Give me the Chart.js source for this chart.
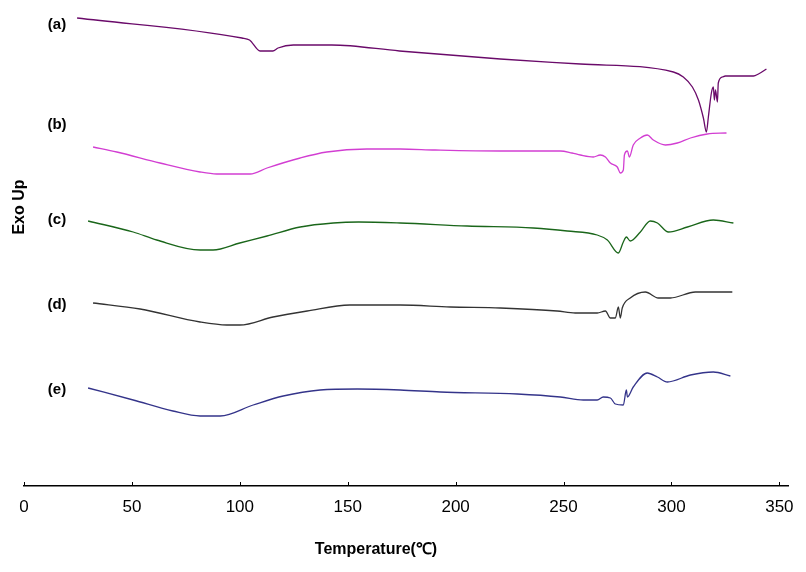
<!DOCTYPE html>
<html>
<head>
<meta charset="utf-8">
<script src="https://cdn.jsdelivr.net/npm/chart.js@4/dist/chart.umd.min.js"></script>
<style>
  body { margin: 0; background: #fff; }
</style>
</head>
<body>
<canvas id="dsc" width="806" height="572"></canvas>
<script>
// temperature ticks on the x axis
const tempTicks = [0, 50, 100, 150, 200, 250, 300, 350];

// curve names and their label heights (heat flow, arbitrary offset units)
const curveNames = ['(a)', '(b)', '(c)', '(d)', '(e)'];
const labelLevels = [46.1, 36.1, 26.6, 18.1, 9.6];
const labelTemp = 15.3;

// (a)
const aTemp = [24.6, 101, 104.5, 109.4, 115.3, 117.7, 124.8, 142.6, 174, 220.7, 257.8, 300.9, 305.5, 309.7, 312.5, 314.8, 316.2, 317.1, 318.5, 319.4, 319.9, 320.4, 321.3, 321.7, 323.6, 325, 338, 340.3, 344];
const aHeat = [46.8, 44.8, 44.6, 43.5, 43.5, 43.8, 44.1, 44.1, 43.5, 42.7, 42.2, 41.4, 40.9, 39.9, 38.6, 36.8, 35.4, 36.9, 39.3, 39.9, 38.6, 39.6, 38.4, 40.3, 40.9, 41.0, 41.0, 41.2, 41.7];
// (b)
const bTemp = [32, 43, 63, 81.6, 89.3, 104.8, 112.6, 128, 140.3, 158.8, 174.3, 190.5, 220.7, 248.5, 253.9, 257.8, 263.8, 267, 269.4, 271.7, 274.9, 276.3, 277.7, 278.2, 279.6, 280.5, 282.3, 285.6, 288.8, 291.6, 297.2, 302.7, 308.8, 316.6, 325.5];
const bHeat = [33.9, 33.4, 32.3, 31.4, 31.2, 31.2, 31.8, 32.8, 33.4, 33.7, 33.7, 33.6, 33.5, 33.5, 33.3, 33.1, 32.9, 33.1, 32.9, 32.3, 31.9, 31.3, 31.6, 33.1, 33.5, 32.9, 34.1, 34.8, 35.1, 34.6, 34.1, 34.3, 34.8, 35.2, 35.3];
// (c)
const cTemp = [29.7, 50.6, 61.5, 81.6, 87.6, 100, 112.6, 128, 143.3, 155, 174.3, 205.3, 236, 251.7, 265.6, 270.3, 275.4, 277.7, 279.1, 280.9, 285.6, 290.2, 293.5, 298.6, 307.4, 319.4, 328.7];
const cHeat = [26.5, 25.4, 24.6, 23.6, 23.6, 24.3, 25.0, 25.9, 26.3, 26.4, 26.3, 26.0, 25.8, 25.5, 25.1, 24.6, 23.3, 24.4, 24.9, 24.5, 25.4, 26.5, 26.3, 25.4, 25.9, 26.6, 26.3];
// (d)
const dTemp = [32, 53.8, 81.6, 94, 100, 115.4, 131.2, 151, 174.3, 197.5, 220.7, 247, 255.4, 265.6, 269.4, 271.7, 274, 275.4, 276.3, 277.2, 280.9, 287.9, 293.9, 299.5, 311.1, 322.7, 328.2];
const dHeat = [18.3, 17.7, 16.4, 16.1, 16.1, 16.9, 17.5, 18.1, 18.1, 17.9, 17.8, 17.5, 17.3, 17.3, 17.5, 16.8, 16.8, 17.9, 16.8, 17.8, 18.8, 19.4, 18.8, 18.8, 19.4, 19.4, 19.4];
// (e)
const eTemp = [29.7, 50.6, 69, 81.6, 90.9, 106.2, 120.1, 137.2, 154.4, 174.3, 192.9, 228.6, 248.5, 259.2, 265.6, 268.4, 271.7, 274, 277.7, 279.1, 279.6, 282.3, 288.8, 293.5, 298.1, 308.8, 319.4, 327.3];
const eHeat = [9.8, 8.6, 7.5, 7.0, 7.0, 8.1, 9.0, 9.6, 9.7, 9.6, 9.4, 9.2, 8.9, 8.6, 8.6, 8.9, 8.8, 8.2, 8.1, 9.6, 8.9, 9.9, 11.3, 10.9, 10.4, 11.1, 11.4, 11.0];

const curveColors = ['#6a0a6a', '#d23ed2', '#1a661a', '#333333', '#34348a'];

function toPoints(xs, ys) {
	return xs.map((x, i) => ({ x: x, y: ys[i] }));
}

const series = [[aTemp, aHeat], [bTemp, bHeat], [cTemp, cHeat], [dTemp, dHeat], [eTemp, eHeat]];

const extras = {
	id: 'extras',
	afterDraw(chart) {
		const ctx = chart.ctx;
		const xs = chart.scales.x, ys = chart.scales.y;
		const area = chart.chartArea;
		ctx.save();
		// small inward tick marks
		ctx.strokeStyle = '#000';
		ctx.lineWidth = 1;
		tempTicks.forEach(t => {
			const px = Math.round(xs.getPixelForValue(t)) + 0.5;
			ctx.beginPath();
			ctx.moveTo(px, area.bottom);
			ctx.lineTo(px, area.bottom - 4);
			ctx.stroke();
		});
		// curve labels
		ctx.fillStyle = '#000';
		ctx.font = 'bold 15px "Liberation Sans", Arial, sans-serif';
		ctx.textAlign = 'center';
		ctx.textBaseline = 'middle';
		curveNames.forEach((n, i) => {
			ctx.fillText(n, xs.getPixelForValue(labelTemp), ys.getPixelForValue(labelLevels[i]));
		});
		// x title
		ctx.font = 'bold 16px "Liberation Sans", Arial, sans-serif';
		ctx.fillText('Temperature(℃)', (area.left + area.right) / 2 - 30, 550);
		// y title
		ctx.translate(20, 207);
		ctx.rotate(-Math.PI / 2);
		ctx.fillText('Exo Up', 0, 0);
		ctx.restore();
	}
};

const dsc = document.querySelector('#dsc');
let chart1 = new Chart(dsc, {
	type: 'line',
	data: {
		datasets: series.map((s, i) => ({
			label: curveNames[i],
			data: toPoints(s[0], s[1]),
			borderColor: curveColors[i],
			borderWidth: 1.3,
			pointRadius: 0,
			fill: false,
			cubicInterpolationMode: 'monotone'
		}))
	},
	options: {
		responsive: false,
		animation: false,
		layout: { padding: { left: 24, right: 18, top: 0, bottom: 43.6 } },
		plugins: { legend: { display: false }, tooltip: { enabled: false } },
		scales: {
			x: {
				type: 'linear',
				min: 0,
				max: 354,
				afterBuildTicks: axis => { axis.ticks = tempTicks.map(v => ({ value: v })); },
				grid: { display: true, drawOnChartArea: false, drawTicks: false },
				border: { display: true, color: '#000', width: 1.5 },
				ticks: {
					color: '#000',
					padding: 11,
					maxRotation: 0,
					autoSkip: false,
					font: { family: '"Liberation Sans", Arial, sans-serif', size: 17 }
				}
			},
			y: {
				display: false,
				min: 0,
				max: 48.6
			}
		}
	},
	plugins: [extras]
});
</script>
</body>
</html>
